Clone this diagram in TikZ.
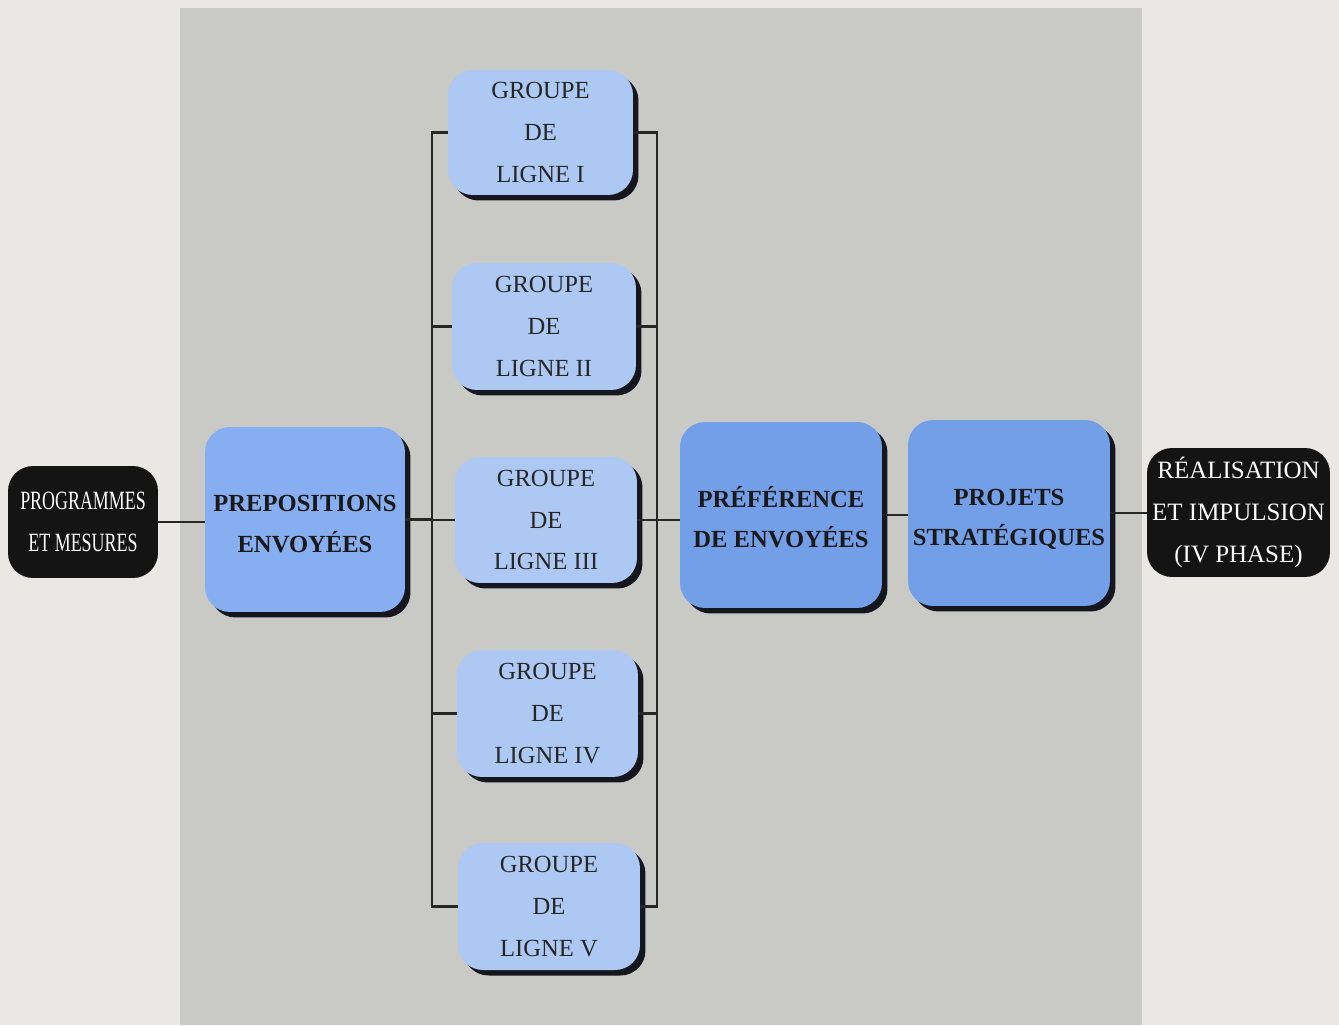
\documentclass[tikz,border=0pt]{standalone}
\usepackage{fontspec}
\setmainfont{Liberation Serif}
\newfontfamily\condserif[FakeStretch=0.68]{Liberation Serif}
\usetikzlibrary{shadows}
\definecolor{pagebg}{HTML}{E9E8E4}
\definecolor{panelc}{HTML}{C9C9C5}
\definecolor{groupblue}{HTML}{AEC8F4}
\definecolor{prepblue}{HTML}{86AEF0}
\definecolor{darkblue}{HTML}{739EE8}
\definecolor{shadowc}{HTML}{16161E}
\definecolor{linec}{HTML}{262626}
\newcommand{\lowtext}[1]{\raisebox{-0.09cm}[\height][\depth]{\begin{tabular}{@{}c@{}}#1\end{tabular}}}
\tikzset{
  base/.style={rounded corners=0.5cm, align=center, inner sep=0pt},
  blackbox/.style={base, fill=black!92, text=white},
  bluebox/.style={base, drop shadow={shadow xshift=0.11cm, shadow yshift=-0.11cm, opacity=1, fill=shadowc}},
  groupbox/.style={bluebox, fill=groupblue, text=black!85, font=\fontsize{14}{23.8}\selectfont},
  bigbox/.style={bluebox, text=black!90, font=\bfseries\fontsize{14}{22.8}\selectfont},
  link/.style={draw=linec, line width=1.4pt}
}
\begin{document}
\begin{tikzpicture}[x=0.02cm,y=-0.02cm]
\useasboundingbox (0,0) rectangle (1339,1025);
\fill[pagebg] (0,0) rectangle (1339,1025);
\fill[panelc] (180,8) rectangle (1142,1025);

\node[blackbox, minimum width=3.0cm, minimum height=2.24cm, font=\condserif\fontsize{15}{23.8}\selectfont] (prog) at (83,522) {PROGRAMMES\\ET MESURES};
\node[bigbox, fill=prepblue, minimum width=4.0cm, minimum height=3.7cm] (prep) at (305,519.5) {\lowtext{PREPOSITIONS\\ENVOYÉES}};

\node[groupbox, minimum width=3.7cm, minimum height=2.5cm] (g1) at (540.5,132.5) {GROUPE\\DE\\LIGNE I};
\node[groupbox, minimum width=3.68cm, minimum height=2.54cm] (g2) at (544,326.5) {GROUPE\\DE\\LIGNE II};
\node[groupbox, minimum width=3.64cm, minimum height=2.52cm] (g3) at (546,520) {GROUPE\\DE\\LIGNE III};
\node[groupbox, minimum width=3.62cm, minimum height=2.54cm] (g4) at (547.5,713.5) {GROUPE\\DE\\LIGNE IV};
\node[groupbox, minimum width=3.64cm, minimum height=2.54cm] (g5) at (549,906.5) {GROUPE\\DE\\LIGNE V};

\node[bigbox, fill=darkblue, minimum width=4.04cm, minimum height=3.72cm] (pref) at (781,515) {\lowtext{PRÉFÉRENCE\\DE ENVOYÉES}};
\node[bigbox, fill=darkblue, minimum width=4.04cm, minimum height=3.72cm] (proj) at (1009,513) {\lowtext{PROJETS\\STRATÉGIQUES}};
\node[blackbox, minimum width=3.66cm, minimum height=2.58cm, font=\fontsize{14.2}{23.8}\selectfont] (real) at (1238.5,512.5) {RÉALISATION\\ET IMPULSION\\(IV PHASE)};

\coordinate (lb) at (432,0);
\coordinate (rb) at (657,0);

\draw[link] (prog.east) -- (prog.east -| prep.west);
\draw[link] (prep.east) -- (prep.east -| lb);
\draw[link] (g1.west) -- (g1.west -| lb) -- (g5.west -| lb) -- (g5.west);
\draw[link] (g2.west) -- (g2.west -| lb);
\draw[link] (g3.west) -- (g3.west -| lb);
\draw[link] (g4.west) -- (g4.west -| lb);
\draw[link] (g1.east) -- (g1.east -| rb) -- (g5.east -| rb) -- (g5.east);
\draw[link] (g2.east) -- (g2.east -| rb);
\draw[link] (g3.east) -- (g3.east -| rb);
\draw[link] (g4.east) -- (g4.east -| rb);
\draw[link] (g3.east -| rb) -- (g3.east -| pref.west);
\draw[link] (pref.east) -- (pref.east -| proj.west);
\draw[link] (proj.east) -- (proj.east -| real.west);
\end{tikzpicture}
\end{document}
